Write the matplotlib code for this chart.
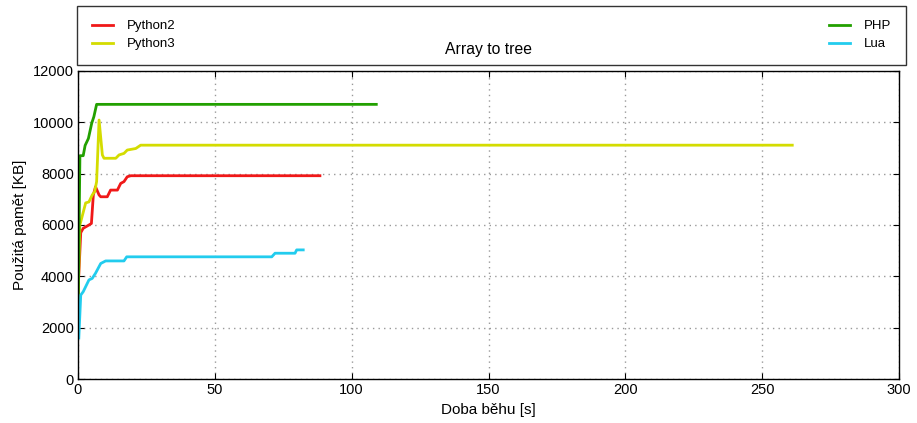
"""
Memory usage over runtime for the "Array to tree" benchmark.
"""
import matplotlib
matplotlib.use('Agg')
import matplotlib.pyplot as plt

plt.rcParams['font.family'] = ['Liberation Sans', 'DejaVu Sans']

###########  data  ###########

py2_t = [0.0, 1.0, 1.9, 4.0, 4.9, 5.6, 6.4, 7.7, 8.3, 10.7, 11.9, 14.4, 15.6,
         16.8, 18.0, 19.3, 88.4]
py2_kb = [3400, 5700, 5870, 6000, 6060, 7170, 7490, 7170, 7100, 7100, 7360,
          7360, 7620, 7690, 7880, 7920, 7920]

py3_t = [0.0, 0.7, 2.8, 4.0, 5.2, 6.1, 6.8, 7.7, 8.9, 9.5, 13.8, 15.0, 16.8,
         18.0, 21.1, 22.9, 261.0]
py3_kb = [3000, 6000, 6860, 6900, 7170, 7300, 7690, 10090, 8730, 8600, 8600,
          8730, 8790, 8920, 8980, 9110, 9110]

php_t = [0.0, 0.7, 1.9, 2.6, 3.8, 5.0, 5.8, 6.8, 109.0]
php_kb = [2200, 8700, 8700, 9100, 9370, 9960, 10220, 10700, 10700]

lua_t = [0.3, 1.0, 1.9, 4.0, 5.2, 6.4, 8.3, 10.1, 16.8, 17.8, 70.8, 72.0,
         79.3, 79.9, 82.3]
lua_kb = [1600, 3270, 3400, 3860, 3920, 4120, 4500, 4600, 4600, 4760, 4760,
          4900, 4900, 5030, 5030]

SERIES = [
    ('Python2', py2_t, py2_kb, '#f01818'),
    ('Python3', py3_t, py3_kb, '#d4dc00'),
    ('PHP', php_t, php_kb, '#22a000'),
    ('Lua', lua_t, lua_kb, '#22ccee'),
]

###########  plot  ###########

fig = plt.figure(figsize=(9.17, 4.23), dpi=100)
ax = fig.add_axes([78/917, 1-379/423, (899-78)/917, (379-71)/423])

for name, t, kb, c in SERIES:
    ax.plot(t, kb, color=c, linewidth=2, label=name)

ax.set_xlim(0, 300)
ax.set_ylim(0, 12000)
ax.set_xticks(range(0, 301, 50))
ax.set_yticks(range(0, 12001, 2000))
ax.tick_params(direction='in', top=True, right=True, length=4,
               labelsize=10.5, pad=3)
ax.grid(True, linestyle=(0, (1, 3)), color='#999999', linewidth=1)
for s in ax.spines.values():
    s.set_linewidth(1)

ax.set_xlabel('Doba běhu [s]', fontsize=11, labelpad=4)
ax.set_ylabel('Použitá pamět [KB]', fontsize=11, labelpad=4)
ax.set_title('Array to tree', fontsize=11.3, pad=12)

leg = fig.legend(loc='lower left', ncol=2, mode='expand',
                 bbox_to_anchor=(77/917, 1-65/423, (906-77)/917, (65-7)/423),
                 borderaxespad=0, fontsize=9.5, handlelength=1.6,
                 handletextpad=1.05, labelspacing=0.45, borderpad=1.1,
                 fancybox=False, edgecolor='black', facecolor='none')
leg.get_frame().set_linewidth(1)

fig.savefig('out.png', dpi=100)
